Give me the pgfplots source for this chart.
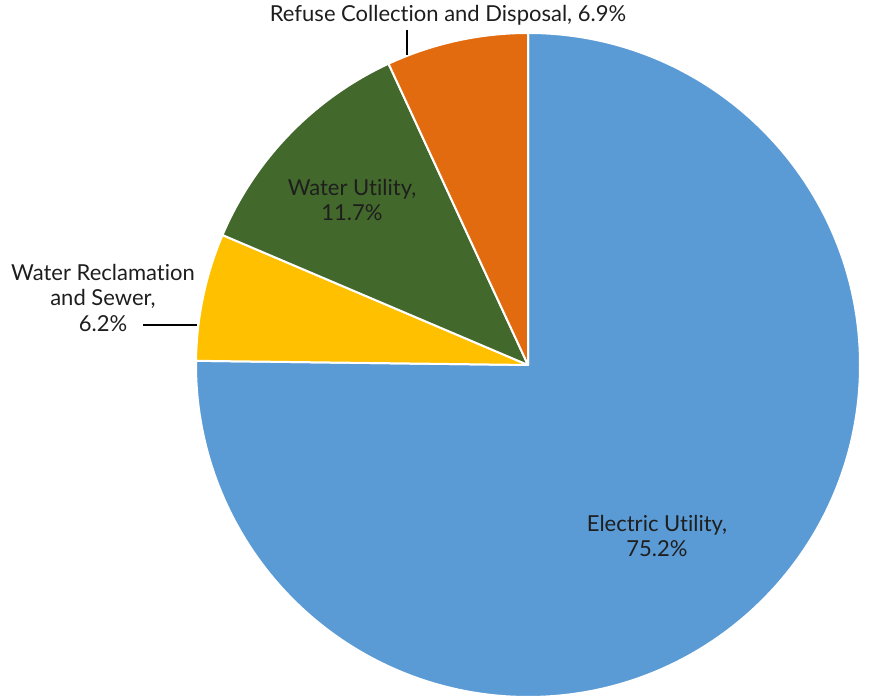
\documentclass[border=0pt]{standalone}
\usepackage{pgfplots}
\usepackage{pgfplotstable}
\pgfplotsset{compat=1.18}
\usepackage{fontspec}
\setmainfont{Lato}[Ligatures={NoCommon}]
\definecolor{cElec}{HTML}{5B9BD5}
\definecolor{cRecl}{HTML}{FFC000}
\definecolor{cWat}{HTML}{43682B}
\definecolor{cRef}{HTML}{E26B10}
\definecolor{txt}{HTML}{1E1E1E}

% share of each service, in percent (clockwise from 12 o'clock)
\pgfplotstableread{
name value
Electric 75.2
Reclamation 6.2
Water 11.7
Refuse 6.9
}\piedata

\pgfplotstablegetelem{0}{value}\of\piedata\let\vA\pgfplotsretval
\pgfplotstablegetelem{1}{value}\of\piedata\let\vB\pgfplotsretval
\pgfplotstablegetelem{2}{value}\of\piedata\let\vC\pgfplotsretval
\pgfplotstablegetelem{3}{value}\of\piedata\let\vD\pgfplotsretval
\pgfmathsetmacro{\aO}{90}
\pgfmathsetmacro{\aA}{\aO-3.6*\vA}
\pgfmathsetmacro{\aB}{\aA-3.6*\vB}
\pgfmathsetmacro{\aC}{\aB-3.6*\vC}
\pgfmathsetmacro{\aD}{\aC-3.6*\vD}

\newcommand{\pieslice}[3]{%
  \filldraw[fill=#1,draw=white,line width=1pt,line join=round]
    (axis cs:528,335) -- ++(#2:166pt) arc[start angle=#2,end angle=#3,radius=166pt] -- cycle;}

\begin{document}
\begin{tikzpicture}
\begin{axis}[
  scale only axis, width=434.5pt, height=350pt,
  xmin=0, xmax=869, ymin=0, ymax=700,
  hide axis, clip=false,
]
\path (axis cs:0,0) rectangle (axis cs:869,700);
\pieslice{cElec}{\aO}{\aA}
\pieslice{cRecl}{\aA}{\aB}
\pieslice{cWat}{\aB}{\aC}
\pieslice{cRef}{\aC}{\aD}

\draw[black, line width=0.6pt] (axis cs:143,375) -- (axis cs:197,375);
\draw[black, line width=0.6pt] (axis cs:407,670) -- (axis cs:407,645);

\tikzset{lab/.style={align=center, text=txt, font=\fontsize{11}{12.9}\selectfont, inner sep=0pt}}
\node[lab] at (axis cs:448,685) {Refuse Collection and Disposal, 6.9\%};
\node[lab] at (axis cs:103,402) {Water Reclamation\\and Sewer,\\6.2\%};
\node[lab] at (axis cs:352,500) {Water Utility,\\11.7\%};
\node[lab] at (axis cs:657,164) {Electric Utility,\\75.2\%};
\end{axis}
\end{tikzpicture}
\end{document}
